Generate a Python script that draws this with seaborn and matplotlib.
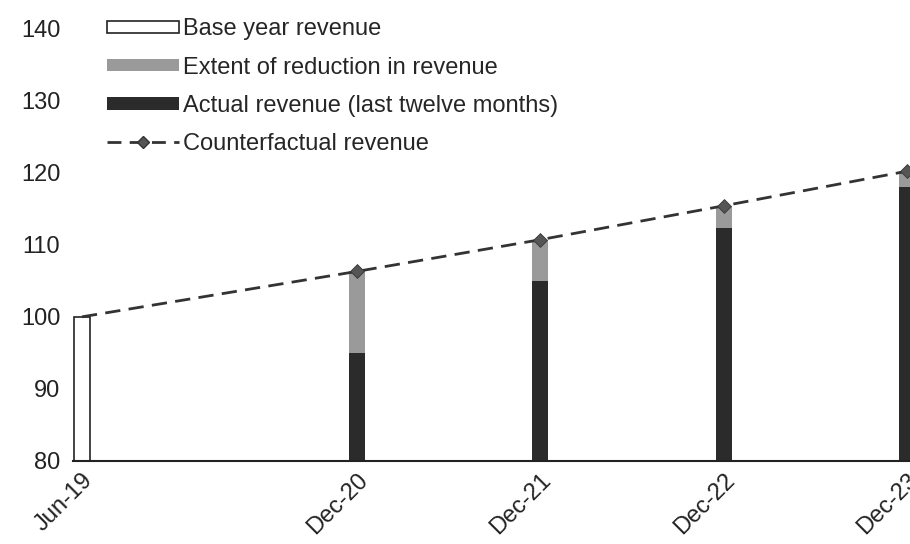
import matplotlib
matplotlib.use('Agg')
import matplotlib.pyplot as plt
import seaborn as sns
import pandas as pd
from matplotlib.patches import Patch
from matplotlib.lines import Line2D

# months after Jun-19
tick_months = [0, 18, 30, 42, 54]
tick_labels = ['Jun-19', 'Dec-20', 'Dec-21', 'Dec-22', 'Dec-23']

base_month = [0]
base_value = [100]

dec_months = [18, 30, 42, 54]
counterfactual = [106.3, 110.7, 115.4, 120.2]
actual = [95.0, 105.0, 112.3, 118.0]

line_months = [0, 18, 30, 42, 54]
line_values = [100, 106.3, 110.7, 115.4, 120.2]

sns.set_theme(style='white')
plt.rcParams['font.family'] = ['Liberation Sans', 'DejaVu Sans']

fig = plt.figure(figsize=(9.1, 5.44), dpi=100)
ax = fig.add_axes([0.08, 0.1526, 0.92, 0.795])

df_dec = pd.DataFrame({'month': dec_months, 'cf': counterfactual, 'act': actual})
df_base = pd.DataFrame({'month': base_month, 'val': base_value})

sns.barplot(data=df_base, x='month', y='val', native_scale=True, width=1.0,
            color='white', edgecolor='#222222', linewidth=1.2, saturation=1, ax=ax)
sns.barplot(data=df_dec, x='month', y='cf', native_scale=True, width=1.05 / 12,
            color='#9a9a9a', linewidth=0, saturation=1, ax=ax)
sns.barplot(data=df_dec, x='month', y='act', native_scale=True, width=1.05 / 12,
            color='#2b2b2b', linewidth=0, saturation=1, ax=ax)

sns.lineplot(x=line_months, y=line_values, color='#333333', linewidth=2,
             dashes=False, ax=ax, zorder=5)
ax.lines[-1].set_dashes((5.5, 3))
sns.scatterplot(x=dec_months, y=counterfactual, marker='D', s=50,
                color='#555555', edgecolor='#333333', ax=ax, zorder=6)

ax.set_xlim(-0.6, 54.2)
ax.set_ylim(80, 140)
ax.set_yticks([80, 90, 100, 110, 120, 130, 140])
ax.set_xticks(tick_months)
ax.set_xticklabels(tick_labels, rotation=45, ha='right', rotation_mode='anchor')
ax.tick_params(axis='both', length=0, labelsize=17, colors='#222222')
ax.tick_params(axis='y', pad=9)
ax.tick_params(axis='x', pad=6)
ax.set_xlabel('')
ax.set_ylabel('')

for s in ['top', 'right', 'left']:
    ax.spines[s].set_visible(False)
ax.spines['bottom'].set_color('#222222')
ax.spines['bottom'].set_linewidth(1.5)

handles = [
    Patch(facecolor='white', edgecolor='#222222', linewidth=1.2),
    Patch(facecolor='#9a9a9a', edgecolor='none'),
    Patch(facecolor='#2b2b2b', edgecolor='none'),
    Line2D([0], [0], color='#333333', linewidth=2, dashes=(5, 3),
           marker='D', markersize=6, markerfacecolor='#555555', markeredgecolor='#333333'),
]
labels = ['Base year revenue', 'Extent of reduction in revenue',
          'Actual revenue (last twelve months)', 'Counterfactual revenue']
ax.legend(handles, labels, loc='upper left', bbox_to_anchor=(0.03, 1.045),
          frameon=False, fontsize=17, handlelength=3.05, handleheight=0.45,
          labelspacing=0.68, handletextpad=0.15, borderaxespad=0)

fig.savefig('out.png', dpi=100)
